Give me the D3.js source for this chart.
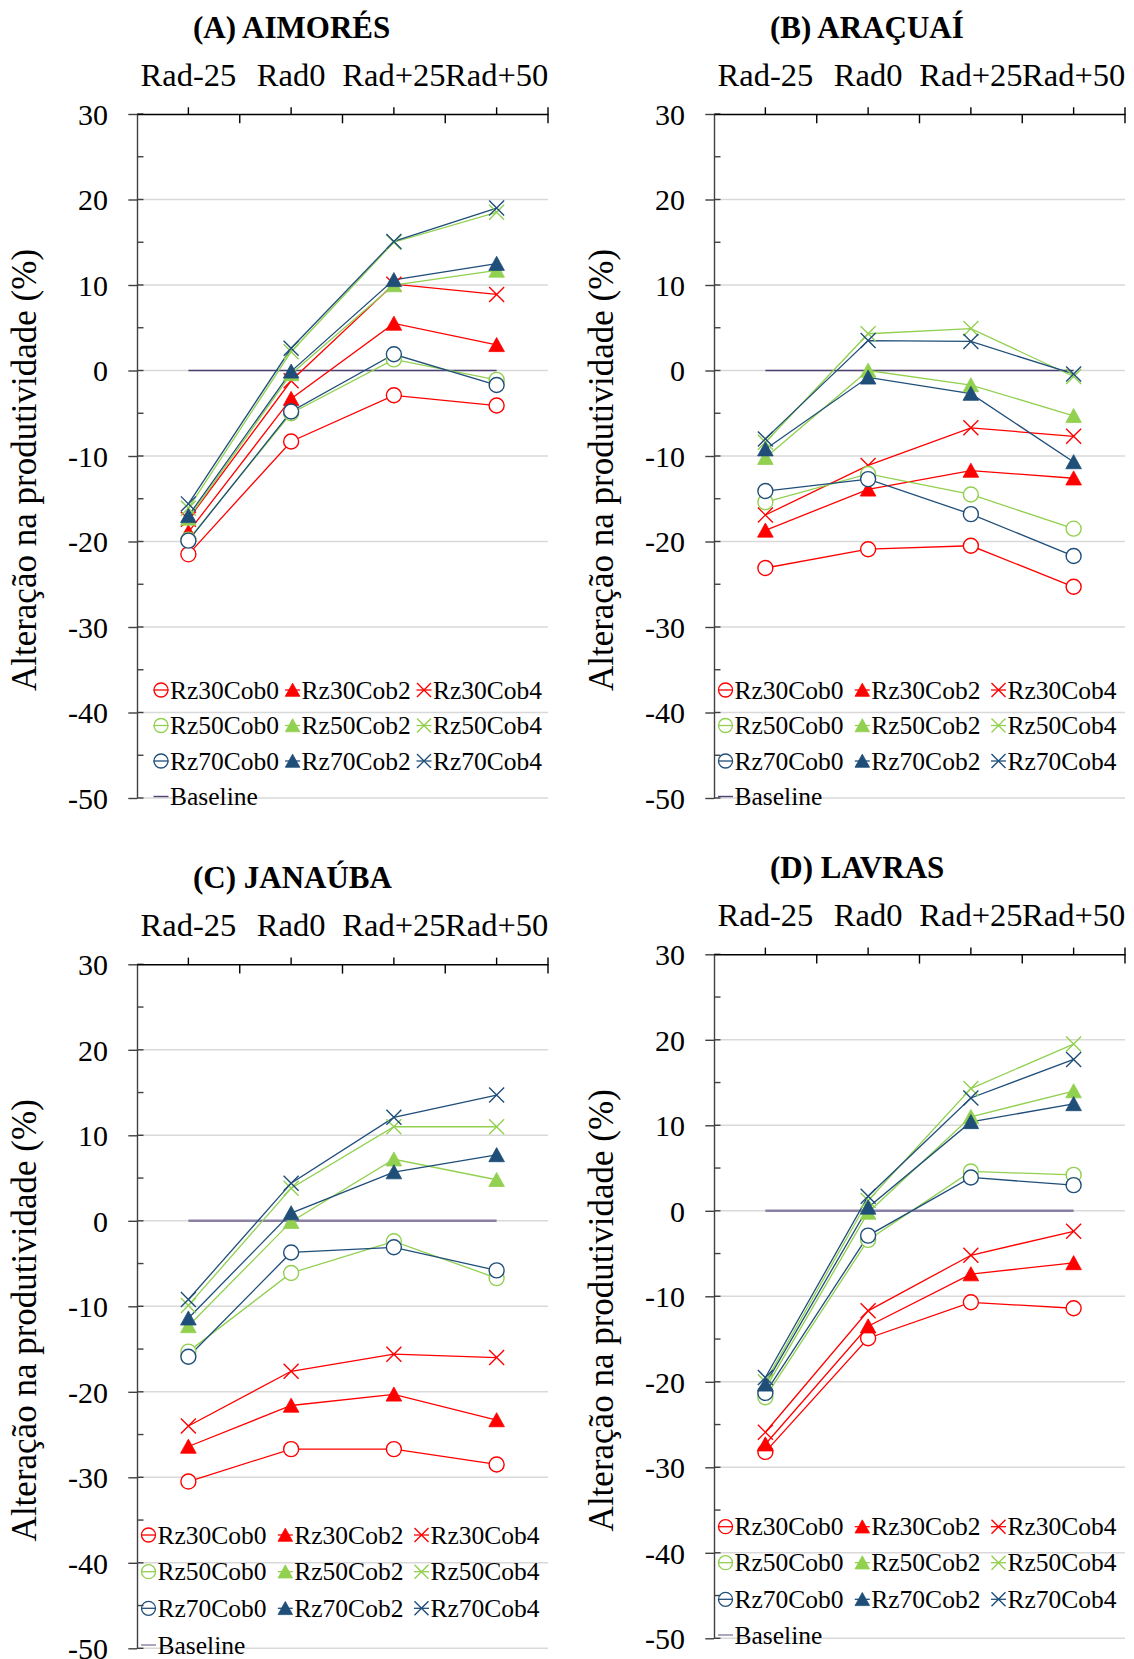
<!DOCTYPE html>
<html>
<head>
<meta charset="utf-8">
<script src="https://cdn.jsdelivr.net/npm/d3@7/dist/d3.min.js"></script>
<style>
  html, body { margin: 0; padding: 0; background: #fff; }
  svg { display: block; }
  svg text { font-family: "Liberation Serif", "Times New Roman", serif; }
</style>
</head>
<body>
<svg id="chart" width="1134" height="1659"></svg>
<script>
// Radiation scenarios on the category axis
const categories = ["Rad-25", "Rad0", "Rad+25", "Rad+50"];

// Series: root depth (Rz) x mulch cover (Cob)
const seriesNames = ["Rz30Cob0", "Rz30Cob2", "Rz30Cob4",
                     "Rz50Cob0", "Rz50Cob2", "Rz50Cob4",
                     "Rz70Cob0", "Rz70Cob2", "Rz70Cob4"];
const seriesColors = ["#ff0000", "#ff0000", "#ff0000",
                      "#92d050", "#92d050", "#92d050",
                      "#1f4e79", "#1f4e79", "#1f4e79"];
const seriesMarkers = ["circle", "triangle", "cross",
                       "circle", "triangle", "cross",
                       "circle", "triangle", "cross"];

// Y axis ticks
const yMajorTicks = [-50, -40, -30, -20, -10, 0, 10, 20, 30];
const yMinorTicks = [-45, -35, -25, -15, -5, 5, 15, 25];

// Yield change (%) per site, one row per series, one column per category
const aimores = [
  [-21.5,  -8.3,  -2.9,  -4.1],
  [-18.9,  -3.3,   5.5,   3.0],
  [-17.4,  -1.2,  10.1,   8.9],
  [-19.8,  -5.0,   1.3,  -1.1],
  [-17.3,  -0.4,  10.0,  11.7],
  [-16.1,   2.2,  15.0,  18.5],
  [-19.9,  -4.8,   1.9,  -1.7],
  [-17.0,  -0.1,  10.6,  12.5],
  [-15.6,   2.6,  15.1,  19.0]
];
const aracuai = [
  [-23.1, -20.9, -20.5, -25.3],
  [-18.7, -13.9, -11.7, -12.6],
  [-16.9, -11.1,  -6.7,  -7.7],
  [-15.4, -12.1, -14.5, -18.5],
  [-10.2,   0.0,  -1.7,  -5.3],
  [ -8.4,   4.3,   4.9,  -0.7],
  [-14.1, -12.7, -16.8, -21.7],
  [ -9.2,  -0.8,  -2.7, -10.7],
  [ -8.0,   3.5,   3.4,  -0.4]
];
const janauba = [
  [-30.5, -26.7, -26.7, -28.5],
  [-26.4, -21.6, -20.3, -23.3],
  [-24.0, -17.6, -15.6, -16.0],
  [-15.3,  -6.1,  -2.4,  -6.7],
  [-12.3,  -0.1,   7.2,   4.8],
  [ -9.9,   3.8,  11.0,  11.0],
  [-15.9,  -3.7,  -3.1,  -5.8],
  [-11.4,   0.9,   5.7,   7.7],
  [ -9.2,   4.4,  12.1,  14.7]
];
const lavras = [
  [-28.2, -14.9, -10.7, -11.4],
  [-27.3, -13.5,  -7.4,  -6.1],
  [-25.9, -11.7,  -5.2,  -2.4],
  [-21.8,  -3.4,   4.6,   4.2],
  [-20.8,  -0.2,  11.0,  14.0],
  [-20.0,   1.2,  14.3,  19.5],
  [-21.3,  -2.9,   3.9,   3.0],
  [-20.3,   0.4,  10.4,  12.5],
  [-19.5,   1.7,  13.2,  17.7]
];
const baselineValues = [0, 0, 0, 0];

const panelTitles = ["(A) AIMORÉS", "(B) ARAÇUAÍ", "(C) JANAÚBA", "(D) LAVRAS"];
const panelData = [aimores, aracuai, janauba, lavras];

// Panel layout: left edge of the plot area and top (value 30) line
const layout = [
  { x0: 137, y0: 114,   rows: [576, 611.5, 647, 682.5], cols: [24, 155.6, 287],   base: "#4e4272", baseW: 1.4 },
  { x0: 714, y0: 114,   rows: [576, 611.5, 647, 682.5], cols: [11.5, 148.3, 284.5], base: "#4e4272", baseW: 1.4 },
  { x0: 137, y0: 964.3, rows: [570.7, 607.4, 644, 680.7], cols: [11.5, 148.3, 284.5], base: "#8a80a3", baseW: 2.4 },
  { x0: 714, y0: 954.3, rows: [572.4, 608.4, 645, 680.7], cols: [11.5, 148.3, 284.5], base: "#8a80a3", baseW: 2.4 }
];

const FONT = "'Liberation Serif', 'Times New Roman', serif";
const plotW = 411, plotH = 684;
const svg = d3.select("#chart").attr("font-family", FONT);

function drawMarker(g, type, color, size) {
  const s = size / 2;
  if (type === "circle") {
    g.append("circle").attr("r", s).attr("fill", "#fff").attr("stroke", color).attr("stroke-width", 1.4);
  } else if (type === "triangle") {
    g.append("path")
      .attr("d", `M0,${-s * 0.98} L${s * 1.04},${s * 0.9} L${-s * 1.04},${s * 0.9} Z`)
      .attr("fill", color).attr("stroke", color).attr("stroke-width", 0.8);
  } else {
    g.append("path")
      .attr("d", `M${-s},${-s} L${s},${s} M${-s},${s} L${s},${-s}`)
      .attr("stroke", color).attr("stroke-width", 1.4).attr("fill", "none");
  }
}

panelData.forEach((data, p) => {
  const L = layout[p];
  const g = svg.append("g").attr("font-family", FONT);

  const x = d3.scaleBand().domain(categories).range([L.x0, L.x0 + plotW]);
  const xc = c => x(c) + x.bandwidth() / 2;
  const y = d3.scaleLinear().domain([-50, 30]).range([L.y0 + plotH, L.y0]);

  // horizontal gridlines
  g.append("g").selectAll("line").data(yMajorTicks.filter(v => v < 30)).join("line")
    .attr("x1", L.x0).attr("x2", L.x0 + plotW)
    .attr("y1", d => y(d)).attr("y2", d => y(d))
    .attr("stroke", "#d9d9d9").attr("stroke-width", 1.4);

  // title
  g.append("text")
    .attr("x", L.x0 + 56).attr("y", L.y0 - 76)
    .attr("font-size", 31).attr("font-weight", "bold").attr("font-family", FONT)
    .text(panelTitles[p]);

  // y axis
  const yAxis = g.append("g")
    .attr("transform", `translate(${L.x0},0)`)
    .call(d3.axisLeft(y).tickValues(yMajorTicks).tickSizeInner(8.7).tickSizeOuter(0).tickPadding(20.3)
      .tickFormat(d => String(d)))
    .attr("font-family", FONT);
  yAxis.select(".domain").attr("stroke", "#404040").attr("stroke-width", 1.4);
  yAxis.selectAll(".tick line").attr("stroke", "#404040").attr("stroke-width", 1.4);
  yAxis.selectAll(".tick text")
    .attr("font-size", 30).attr("font-family", FONT)
    .attr("fill", "#000").attr("dy", "0.34em");
  // inner part of the major ticks and the minor ticks
  g.append("g").selectAll("line").data(yMajorTicks.concat(yMinorTicks)).join("line")
    .attr("x1", L.x0).attr("x2", L.x0 + 6.5)
    .attr("y1", d => y(d)).attr("y2", d => y(d))
    .attr("stroke", "#404040").attr("stroke-width", 1.4);

  // y axis title
  g.append("text")
    .attr("transform", `translate(${L.x0 - 101},${L.y0 + 356}) rotate(-90)`)
    .attr("text-anchor", "middle").attr("font-size", 35).attr("font-family", FONT)
    .text("Alteração na produtividade (%)");

  // top category axis
  const xAxis = g.append("g")
    .attr("transform", `translate(0,${L.y0})`)
    .call(d3.axisTop(x).tickSizeInner(6.7).tickSizeOuter(0).tickPadding(21.3))
    .attr("font-family", FONT);
  xAxis.select(".domain").attr("stroke", "#000").attr("stroke-width", 1.4);
  xAxis.selectAll(".tick line").attr("stroke", "#000").attr("stroke-width", 1.4);
  xAxis.selectAll(".tick text")
    .attr("font-size", 32.5).attr("font-family", FONT).attr("fill", "#000");
  // inward ticks at category boundaries and the closing tick at the right end
  g.append("g").selectAll("line").data(categories.slice(1)).join("line")
    .attr("x1", d => x(d)).attr("x2", d => x(d))
    .attr("y1", L.y0).attr("y2", L.y0 + 9.3)
    .attr("stroke", "#000").attr("stroke-width", 1.4);
  g.append("line")
    .attr("x1", x.range()[1]).attr("x2", x.range()[1])
    .attr("y1", L.y0 - 6.7).attr("y2", L.y0 + 9.3)
    .attr("stroke", "#000").attr("stroke-width", 1.4);

  const line = d3.line().x((d, i) => xc(categories[i])).y(d => y(d));

  // baseline series
  g.append("path").datum(baselineValues)
    .attr("d", line).attr("fill", "none")
    .attr("stroke", L.base).attr("stroke-width", L.baseW);

  // series lines and markers
  data.forEach((vals, s) => {
    g.append("path").datum(vals)
      .attr("d", line).attr("fill", "none")
      .attr("stroke", seriesColors[s]).attr("stroke-width", 1.3);
  });
  data.forEach((vals, s) => {
    vals.forEach((v, i) => {
      const m = g.append("g").attr("transform", `translate(${xc(categories[i])},${y(v)})`);
      drawMarker(m, seriesMarkers[s], seriesColors[s], 15);
    });
  });

  // legend
  const lg = g.append("g");
  seriesNames.forEach((name, s) => {
    const row = Math.floor(s / 3), col = s % 3;
    const cx = L.x0 + L.cols[col], cy = L.y0 + L.rows[row];
    lg.append("line")
      .attr("x1", cx - 7.5).attr("x2", cx + 7.5).attr("y1", cy).attr("y2", cy)
      .attr("stroke", seriesColors[s]).attr("stroke-width", 1.3);
    const m = lg.append("g").attr("transform", `translate(${cx},${cy})`);
    if (seriesMarkers[s] === "circle") {
      m.append("circle").attr("r", 7).attr("fill", "none")
        .attr("stroke", seriesColors[s]).attr("stroke-width", 1.3);
    } else {
      drawMarker(m, seriesMarkers[s], seriesColors[s], 14);
    }
    lg.append("text")
      .attr("x", cx + 9).attr("y", cy).attr("dy", "0.34em")
      .attr("font-size", 25.5).attr("font-family", FONT).text(name);
  });
  const by = L.y0 + L.rows[3];
  const bx = L.x0 + L.cols[0];
  lg.append("line")
    .attr("x1", bx - 7.5).attr("x2", bx + 7.5).attr("y1", by).attr("y2", by)
    .attr("stroke", L.base).attr("stroke-width", 1.4);
  lg.append("text")
    .attr("x", bx + 9).attr("y", by).attr("dy", "0.34em")
    .attr("font-size", 25.5).attr("font-family", FONT).text("Baseline");
});
</script>
</body>
</html>
